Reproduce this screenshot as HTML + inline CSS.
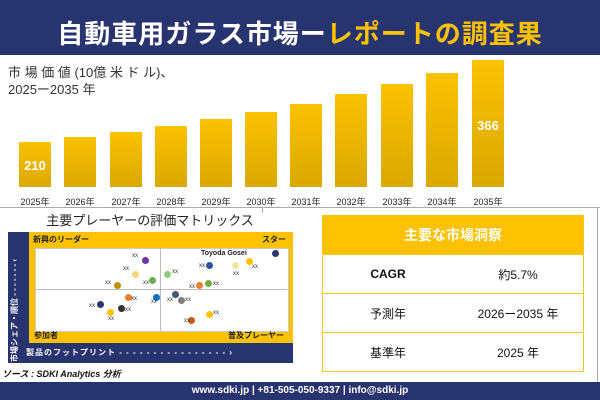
<!DOCTYPE html>
<html><head><meta charset="utf-8"><style>
body{margin:0;width:600px;height:400px;position:relative;background:#fff;font-family:"Liberation Sans","Noto Sans CJK JP",sans-serif;overflow:hidden}
.a{position:absolute}
.bar{position:absolute;width:32px;background:linear-gradient(#fcc200,#d9a800)}
.yl{position:absolute;top:195px;font-size:9px;width:40px;text-align:center;color:#222}
.d{position:absolute;width:7px;height:7px;border-radius:50%}
.x{position:absolute;font-size:6px;color:#333}
td{border-bottom:1px solid #f5c518;text-align:center;font-size:12px;color:#111;padding:0}
</style></head><body>
<div class="a" style="left:0;top:0;width:600px;height:55px;background:#283470"></div>
<div class="a" style="left:0;top:14px;width:600px;text-align:center;font-size:26px;font-weight:bold;color:#fff;letter-spacing:1px">自動車用ガラス市場ー<span style="color:#fcc200">レポートの調査果</span></div>
<div class="a" style="left:8px;top:64px;font-size:13px;color:#333;line-height:17px">市 場 価 値 (10億 米 ド ル)、<br>2025ー2035 年</div>
<div class="bar" style="left:19px;top:142px;height:45px"></div>
<div class="bar" style="left:64px;top:137px;height:50px"></div>
<div class="bar" style="left:110px;top:132px;height:55px"></div>
<div class="bar" style="left:155px;top:126px;height:61px"></div>
<div class="bar" style="left:200px;top:119px;height:68px"></div>
<div class="bar" style="left:245px;top:112px;height:75px"></div>
<div class="bar" style="left:290px;top:104px;height:83px"></div>
<div class="bar" style="left:335px;top:94px;height:93px"></div>
<div class="bar" style="left:381px;top:84px;height:103px"></div>
<div class="bar" style="left:426px;top:73px;height:114px"></div>
<div class="bar" style="left:472px;top:60px;height:127px"></div>
<div class="a" style="left:19px;top:158px;width:32px;text-align:center;color:#fff;font-weight:bold;font-size:13px">210</div>
<div class="a" style="left:472px;top:118px;width:32px;text-align:center;color:#fff;font-weight:bold;font-size:13px">366</div>
<div class="yl" style="left:15px">2025年</div><div class="yl" style="left:60px">2026年</div><div class="yl" style="left:106px">2027年</div><div class="yl" style="left:151px">2028年</div><div class="yl" style="left:196px">2029年</div><div class="yl" style="left:241px">2030年</div><div class="yl" style="left:286px">2031年</div><div class="yl" style="left:331px">2032年</div><div class="yl" style="left:377px">2033年</div><div class="yl" style="left:422px">2034年</div><div class="yl" style="left:468px">2035年</div>
<div class="a" style="left:0;top:207px;width:600px;height:1px;background:#aaa"></div>
<div class="a" style="left:262px;top:207px;width:1px;height:6px;background:#aaa"></div>
<div class="a" style="left:597px;top:207px;width:1px;height:175px;background:#aaa"></div>
<div class="a" style="left:0;top:210px;width:300px;text-align:center;font-size:13px;color:#222">主要プレーヤーの評価マトリックス</div>
<div class="a" style="left:8px;top:232px;width:285px;height:131px;background:#283470"></div>
<div class="a" style="left:29px;top:232px;width:264px;height:111px;background:#fcc200"></div>
<div class="a" style="left:35px;top:248px;width:252px;height:82px;background:#fff;border:1px solid #ccc"></div>
<div class="a" style="left:160px;top:248px;width:1px;height:83px;background:#bbb"></div>
<div class="a" style="left:35px;top:289px;width:252px;height:1px;background:#bbb"></div>
<div class="a" style="left:33px;top:234px;font-size:8px;font-weight:bold;color:#222">新興のリーダー</div>
<div class="a" style="left:262px;top:234px;font-size:8px;font-weight:bold;color:#222">スター</div>
<div class="a" style="left:34px;top:330px;font-size:8px;font-weight:bold;color:#222">参加者</div>
<div class="a" style="left:228px;top:330px;font-size:8px;font-weight:bold;color:#222">普及プレーヤー</div>
<div class="a" style="left:201px;top:250px;font-size:7px;font-weight:bold;color:#222">Toyoda Gosei</div>
<div class="a" style="left:26px;top:347px;font-size:8px;font-weight:bold;color:#fff;letter-spacing:1px">製品のフットプリント - - - - - - - - - - - - - - - - ›</div>
<div class="a" style="left:9px;font-size:8px;font-weight:bold;color:#fff;transform:rotate(-90deg);transform-origin:left top;white-space:nowrap;top:362px">市場シェア・順位 - - - - - - - ‹</div>
<div class="d" style="left:272px;top:250px;background:#283470"></div>
<div class="d" style="left:142px;top:257px;background:#7030a0"></div>
<div class="d" style="left:246px;top:258px;background:#fcc200"></div>
<div class="d" style="left:206px;top:262px;background:#2e5597"></div>
<div class="d" style="left:232px;top:262px;background:#f7e39b"></div>
<div class="d" style="left:132px;top:271px;background:#f2d77a"></div>
<div class="d" style="left:164px;top:271px;background:#8fc97b"></div>
<div class="d" style="left:149px;top:277px;background:#70ad47"></div>
<div class="d" style="left:205px;top:280px;background:#70ad47"></div>
<div class="d" style="left:196px;top:282px;background:#ed7d31"></div>
<div class="d" style="left:114px;top:282px;background:#bf9000"></div>
<div class="d" style="left:125px;top:294px;background:#ed7d31"></div>
<div class="d" style="left:153px;top:294px;background:#0070c0"></div>
<div class="d" style="left:172px;top:291px;background:#44546a"></div>
<div class="d" style="left:178px;top:297px;background:#7f7f7f"></div>
<div class="d" style="left:97px;top:301px;background:#283470"></div>
<div class="d" style="left:118px;top:305px;background:#333"></div>
<div class="d" style="left:107px;top:309px;background:#fcc200"></div>
<div class="d" style="left:206px;top:311px;background:#fcc200"></div>
<div class="d" style="left:188px;top:317px;background:#c55a11"></div>
<div class="x" style="left:132px;top:253px">xx</div><div class="x" style="left:123px;top:266px">xx</div><div class="x" style="left:105px;top:280px">xx</div><div class="x" style="left:143px;top:280px">xx</div><div class="x" style="left:172px;top:269px">xx</div><div class="x" style="left:199px;top:263px">xx</div><div class="x" style="left:252px;top:264px">xx</div><div class="x" style="left:233px;top:271px">xx</div><div class="x" style="left:189px;top:284px">xx</div><div class="x" style="left:213px;top:281px">xx</div><div class="x" style="left:131px;top:296px">xx</div><div class="x" style="left:89px;top:303px">xx</div><div class="x" style="left:125px;top:307px">xx</div><div class="x" style="left:108px;top:316px">xx</div><div class="x" style="left:151px;top:299px">xx</div><div class="x" style="left:167px;top:297px">xx</div><div class="x" style="left:185px;top:297px">xx</div><div class="x" style="left:213px;top:310px">xx</div><div class="x" style="left:184px;top:318px">xx</div>
<div class="a" style="left:2px;top:367px;font-size:9px;font-style:italic;font-weight:bold;color:#111">ソース : SDKI Analytics 分析</div>
<table class="a" style="left:322px;top:215px;width:262px;border-collapse:collapse;border-left:1px solid #f5c518;border-right:1px solid #f5c518">
<tr><td colspan="2" style="background:#fcc200;color:#fff;font-size:14px;font-weight:bold;height:39px">主要な市場洞察</td></tr>
<tr><td style="height:38px;font-weight:bold;width:50%">CAGR</td><td>約5.7%</td></tr>
<tr><td style="height:38px">予測年</td><td>2026ー2035 年</td></tr>
<tr><td style="height:38px">基準年</td><td>2025 年</td></tr>
</table>
<div class="a" style="left:0;top:382px;width:600px;height:18px;background:#283470;color:#fff;font-size:10px;font-weight:bold;text-align:center;line-height:18px">www.sdki.jp | +81-505-050-9337 | info@sdki.jp</div>
</body></html>
